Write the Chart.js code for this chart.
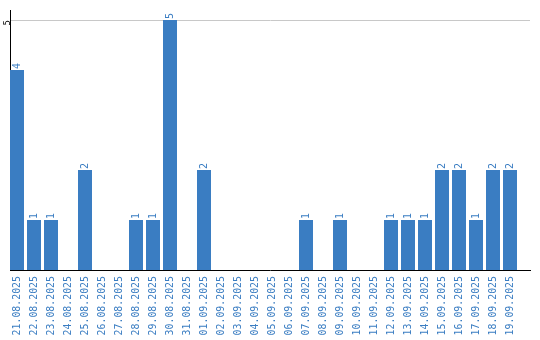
<!DOCTYPE html>
<html>
<head>
<meta charset="utf-8">
<script src="https://cdn.jsdelivr.net/npm/chart.js@4.4.1/dist/chart.umd.min.js"></script>
<style>
  html, body { margin: 0; padding: 0; background: #fff; }
  #wrap { width: 540px; height: 340px; }
</style>
</head>
<body>
<div id="wrap"><canvas id="barChart"></canvas></div>
<script>
var dates = ["21.08.2025", "22.08.2025", "23.08.2025", "24.08.2025", "25.08.2025", "26.08.2025",
  "27.08.2025", "28.08.2025", "29.08.2025", "30.08.2025", "31.08.2025", "01.09.2025",
  "02.09.2025", "03.09.2025", "04.09.2025", "05.09.2025", "06.09.2025", "07.09.2025",
  "08.09.2025", "09.09.2025", "10.09.2025", "11.09.2025", "12.09.2025", "13.09.2025",
  "14.09.2025", "15.09.2025", "16.09.2025", "17.09.2025", "18.09.2025", "19.09.2025"];
var counts = [4, 1, 1, 0, 2, 0, 0, 1, 1, 5, 0, 2, 0, 0, 0, 0, 0, 1, 0, 1, 0, 0, 1, 1, 1, 2, 2, 1, 2, 2];
var yTicks = [5];

var blue = "#3a7dc2";
var monoFamily = "'DejaVu Sans Mono', monospace";

// the category band stops short of the axis end, like the original
var shiftBand = {
  id: 'shiftBand',
  afterLayout: function(chart) {
    var x = chart.scales.x;
    x._startPixel = x.left - 1.5;
    x._endPixel = x.right - 11.5;
    x._length = x._endPixel - x._startPixel;
  }
};

// value labels drawn vertically above each bar
var barLabels = {
  id: 'barLabels',
  afterDatasetsDraw: function(chart) {
    var ctx = chart.ctx;
    var meta = chart.getDatasetMeta(0);
    ctx.save();
    ctx.fillStyle = blue;
    ctx.font = "10px " + monoFamily;
    ctx.textAlign = 'left';
    ctx.textBaseline = 'middle';
    meta.data.forEach(function(bar, i) {
      if (!counts[i]) return;
      ctx.save();
      ctx.translate(bar.x, bar.y - 1);
      ctx.rotate(-Math.PI / 2);
      ctx.fillText(String(counts[i]), 0, 0);
      ctx.restore();
    });
    ctx.restore();
  }
};

new Chart(document.getElementById("barChart").getContext("2d"), {
  type: 'bar',
  data: {
    labels: dates,
    datasets: [{
      data: counts,
      backgroundColor: blue,
      borderWidth: 0,
      barPercentage: 14 / 17,
      categoryPercentage: 1
    }]
  },
  options: {
    responsive: true,
    maintainAspectRatio: false,
    animation: false,
    layout: { padding: { top: 10, right: 10, left: 0, bottom: 0 } },
    plugins: { legend: { display: false }, tooltip: { enabled: false } },
    scales: {
      x: {
        afterFit: function(scale) { scale.height = 70; },
        grid: { display: false, drawTicks: false },
        border: { color: '#000', width: 1 },
        ticks: {
          color: blue,
          font: { family: monoFamily, size: 9.9 },
          minRotation: 90,
          maxRotation: 90,
          padding: 6,
          autoSkip: false
        }
      },
      y: {
        min: 0,
        max: 5.2,
        afterFit: function(scale) { scale.width = 10; },
        afterBuildTicks: function(scale) {
          scale.ticks = yTicks.map(function(v) { return { value: v }; });
        },
        grid: { color: '#c8c8c8', drawTicks: false },
        border: { color: '#000', width: 1 },
        ticks: {
          color: '#000',
          font: { family: monoFamily, size: 9 },
          minRotation: 90,
          maxRotation: 90,
          padding: 2
        }
      }
    }
  },
  plugins: [shiftBand, barLabels]
});
</script>
</body>
</html>
